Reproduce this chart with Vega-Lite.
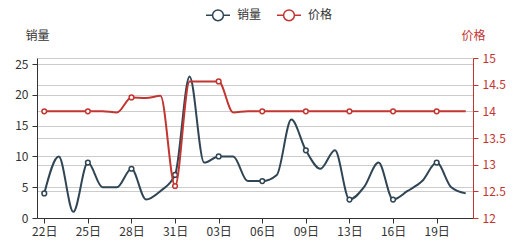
{
  "$schema": "https://vega.github.io/schema/vega-lite/v6.json",
  "width": 436,
  "height": 160,
  "autosize": {"type": "none"},
  "padding": {"left": 37, "top": 58, "right": 44, "bottom": 28},
  "background": "white",
  "config": {
    "font": "Noto Sans CJK SC",
    "view": {"stroke": null},
    "axis": {
      "labelFont": "Noto Sans CJK SC",
      "labelFontSize": 12,
      "titleFont": "Noto Sans CJK SC",
      "titleFontSize": 12,
      "titleFontWeight": "normal",
      "gridColor": "#cccccc",
      "gridWidth": 1,
      "tickSize": 5,
      "domainWidth": 1
    }
  },
  "data": {
    "values": [
      {"day": "22日", "sales": 4, "price": 14},
      {"day": "23日", "sales": 10, "price": 14},
      {"day": "24日", "sales": 1, "price": 14},
      {"day": "25日", "sales": 9, "price": 14},
      {"day": "26日", "sales": 5, "price": 14},
      {"day": "27日", "sales": 5, "price": 13.98},
      {"day": "28日", "sales": 8, "price": 14.26},
      {"day": "29日", "sales": 3, "price": 14.25},
      {"day": "30日", "sales": 4.4, "price": 14.29},
      {"day": "31日", "sales": 7, "price": 12.6},
      {"day": "01日", "sales": 23, "price": 14.56},
      {"day": "02日", "sales": 9, "price": 14.56},
      {"day": "03日", "sales": 10, "price": 14.56},
      {"day": "04日", "sales": 10, "price": 13.98},
      {"day": "05日", "sales": 6, "price": 14},
      {"day": "06日", "sales": 6, "price": 14},
      {"day": "07日", "sales": 7, "price": 14},
      {"day": "08日", "sales": 16, "price": 14},
      {"day": "09日", "sales": 11, "price": 14},
      {"day": "10日", "sales": 8, "price": 14},
      {"day": "11日", "sales": 11, "price": 14},
      {"day": "13日", "sales": 3, "price": 14},
      {"day": "14日", "sales": 5, "price": 14},
      {"day": "15日", "sales": 9, "price": 14},
      {"day": "16日", "sales": 3, "price": 14},
      {"day": "17日", "sales": 4.4, "price": 14},
      {"day": "18日", "sales": 6, "price": 14},
      {"day": "19日", "sales": 9, "price": 14},
      {"day": "20日", "sales": 5, "price": 14},
      {"day": "21日", "sales": 4, "price": 14}
    ]
  },
  "encoding": {
    "x": {
      "field": "day",
      "type": "ordinal",
      "sort": null,
      "scale": {"type": "point", "padding": 0.5},
      "axis": {
        "title": null,
        "values": ["22日", "25日", "28日", "31日", "03日", "06日", "09日", "13日", "16日", "19日"],
        "labelAngle": 0,
        "labelColor": "#333333",
        "domainColor": "#333333",
        "tickColor": "#333333",
        "labelPadding": 3,
        "grid": false
      }
    }
  },
  "layer": [
    {
      "encoding": {
        "y": {
          "field": "sales",
          "type": "quantitative",
          "scale": {"domain": [0, 26], "nice": false},
          "axis": {
            "orient": "left",
            "title": "销量",
            "titleAngle": 0,
            "titleAlign": "center",
            "titleBaseline": "middle",
            "titleX": 0,
            "titleY": -23,
            "titleColor": "#333333",
            "values": [0, 5, 10, 15, 20, 25],
            "labelColor": "#333333",
            "domainColor": "#333333",
            "tickColor": "#333333",
            "labelPadding": 4,
            "grid": true
          }
        },
        "color": {
          "datum": "销量",
          "type": "nominal",
          "scale": {"domain": ["销量", "价格"], "range": ["#2f4554", "#c23531"]},
          "legend": {
            "title": null,
            "orient": "none",
            "direction": "horizontal",
            "legendX": 168,
            "legendY": -56,
            "padding": 0,
            "symbolType": "M-1,0L-0.45,0M0.45,0L1,0M-0.45,0A0.45,0.45 0 1,1 0.45,0A0.45,0.45 0 1,1 -0.45,0Z",
            "symbolSize": 576,
            "symbolStrokeWidth": 1.5,
            "symbolFillColor": "white",
            "labelFontSize": 12,
            "labelColor": "#333333",
            "labelOffset": 6,
            "columnPadding": 12,
            "labelFont": "Noto Sans CJK SC"
          }
        }
      },
      "layer": [
        {"mark": {"type": "line", "interpolate": "monotone", "strokeWidth": 2}},
        {
          "transform": [{"filter": {"field": "day", "oneOf": ["22日", "25日", "28日", "31日", "03日", "06日", "09日", "13日", "16日", "19日"]}}],
          "mark": {"type": "point", "filled": false, "fill": "white", "fillOpacity": 1, "opacity": 1, "strokeWidth": 1.5, "size": 22}
        }
      ]
    },
    {
      "encoding": {
        "y": {
          "field": "price",
          "type": "quantitative",
          "scale": {"domain": [12, 15], "nice": false, "zero": false},
          "axis": {
            "orient": "right",
            "title": "价格",
            "titleAngle": 0,
            "titleAlign": "center",
            "titleBaseline": "middle",
            "titleX": 0,
            "titleY": -23,
            "titleColor": "#c23531",
            "values": [12, 12.5, 13, 13.5, 14, 14.5, 15],
            "format": "~g",
            "labelColor": "#c23531",
            "domainColor": "#c23531",
            "tickColor": "#c23531",
            "labelPadding": 4,
            "grid": true
          }
        },
        "color": {"datum": "价格", "type": "nominal"}
      },
      "layer": [
        {"mark": {"type": "line", "interpolate": "monotone", "strokeWidth": 2}},
        {
          "transform": [{"filter": {"field": "day", "oneOf": ["22日", "25日", "28日", "31日", "03日", "06日", "09日", "13日", "16日", "19日"]}}],
          "mark": {"type": "point", "filled": false, "fill": "white", "fillOpacity": 1, "opacity": 1, "strokeWidth": 1.5, "size": 22}
        }
      ]
    }
  ],
  "resolve": {"scale": {"y": "independent"}}
}
